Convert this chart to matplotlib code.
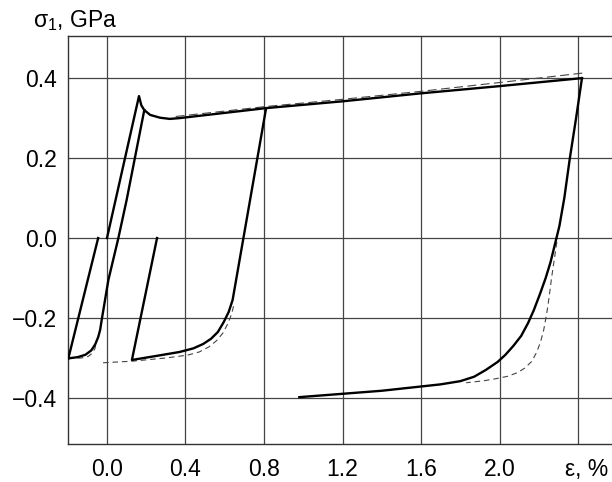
"""
Cyclic stress-strain curves sigma_1 vs epsilon (solid = experiment,
dashed = model), redrawn from a scanned figure.
"""
import matplotlib
matplotlib.use("Agg")
import matplotlib.pyplot as plt

plt.rcParams['font.family'] = ['Liberation Sans', 'DejaVu Sans']
plt.rcParams['mathtext.fontset'] = 'custom'
plt.rcParams['mathtext.rm'] = 'Liberation Sans'

# ------------------------------------------------------------------------
# data (strain in %, stress in GPa)
# ------------------------------------------------------------------------
# loading from origin, yield drop, hardening plateau
load_x = [0.0, 0.163, 0.175, 0.19, 0.22, 0.27, 0.32, 0.37, 0.81, 1.2, 1.6, 2.0, 2.42]
load_y = [0.0, 0.355, 0.332, 0.320, 0.308, 0.301, 0.298, 0.300, 0.325, 0.342, 0.362, 0.380, 0.400]

# unloading from the right end into compression
unl_right_x = [2.42, 2.39, 2.358, 2.33, 2.305, 2.29, 2.26, 2.235, 2.206, 2.175,
               2.145, 2.11, 2.07, 2.03, 1.99, 1.93, 1.87, 1.80, 1.70, 1.40, 0.98]
unl_right_y = [0.400, 0.300, 0.199, 0.100, 0.030, 0.0, -0.060, -0.100, -0.140, -0.180,
               -0.213, -0.245, -0.270, -0.292, -0.310, -0.330, -0.347, -0.358, -0.366, -0.382, -0.398]

# early unloading just after the yield drop
unl_left_x = [0.19, 0.10, 0.058, 0.007, -0.027, -0.035, -0.045, -0.06, -0.08, -0.11, -0.15, -0.197]
unl_left_y = [0.320, 0.095, 0.0, -0.105, -0.205, -0.230, -0.248, -0.266, -0.281, -0.292, -0.298, -0.301]

# reloading branch ending at zero stress
rel_a_x = [-0.197, -0.045]
rel_a_y = [-0.301, 0.0]

# second branch: from zero stress down, then reversed loading up to the plateau
rel_b_x = [0.255, 0.127, 0.25, 0.37, 0.44, 0.49, 0.53, 0.565, 0.595, 0.62, 0.64, 0.81]
rel_b_y = [0.0, -0.305, -0.295, -0.285, -0.276, -0.265, -0.252, -0.235, -0.210, -0.185, -0.155, 0.323]

# model (dashed)
mod_top_x = [0.35, 0.81, 1.2, 1.6, 2.0, 2.43]
mod_top_y = [0.304, 0.329, 0.347, 0.367, 0.389, 0.413]

mod_ll_x = [-0.197, -0.13, -0.095, -0.075, -0.061, -0.053]
mod_ll_y = [-0.301, -0.300, -0.296, -0.288, -0.276, -0.255]

mod_mid_x = [-0.02, 0.13, 0.30, 0.41, 0.47, 0.52, 0.56, 0.59, 0.615, 0.635, 0.645]
mod_mid_y = [-0.312, -0.308, -0.300, -0.293, -0.285, -0.272, -0.256, -0.238, -0.215, -0.190, -0.170]

mod_right_x = [2.292, 2.28, 2.265, 2.252, 2.24, 2.225, 2.21, 2.19, 2.165, 2.13,
               2.09, 2.04, 1.98, 1.92, 1.83]
mod_right_y = [-0.010, -0.050, -0.100, -0.150, -0.190, -0.230, -0.258, -0.285, -0.308, -0.325,
               -0.337, -0.346, -0.352, -0.357, -0.362]

xticks = [0.0, 0.4, 0.8, 1.2, 1.6, 2.0, 2.4]
xtick_labels = ['0.0', '0.4', '0.8', '1.2', '1.6', '2.0', '']
yticks = [-0.4, -0.2, 0.0, 0.2, 0.4]

# ------------------------------------------------------------------------
# plot
# ------------------------------------------------------------------------
fig = plt.figure(figsize=(6.12, 4.82), dpi=100)
ax = fig.add_axes([0.111, 0.079, 0.889, 0.846])

solid = dict(color='black', lw=1.7, solid_joinstyle='round', zorder=3)
for xs, ys in [(load_x, load_y), (unl_right_x, unl_right_y),
               (unl_left_x, unl_left_y), (rel_a_x, rel_a_y),
               (rel_b_x, rel_b_y)]:
    ax.plot(xs, ys, **solid)

ax.plot(mod_top_x, mod_top_y, color='#444444', lw=0.8, ls=(0, (8, 4)), zorder=2)
for xs, ys in [(mod_ll_x, mod_ll_y), (mod_mid_x, mod_mid_y),
               (mod_right_x, mod_right_y)]:
    ax.plot(xs, ys, color='#444444', lw=0.8, ls=(0, (5, 3.5)), zorder=2)

ax.set_xlim(-0.199, 2.573)
ax.set_ylim(-0.515, 0.505)
ax.set_xticks(xticks)
ax.set_xticklabels(xtick_labels)
ax.set_yticks(yticks)
ax.set_yticklabels([f'{v:.1f}'.replace('-', '\u2212') for v in yticks])
ax.tick_params(length=0, labelsize=16.5)
ax.tick_params(axis='x', pad=10)
ax.tick_params(axis='y', pad=8)
ax.grid(True, color='#444444', lw=0.9)
ax.set_axisbelow(True)
for side in ('left', 'bottom', 'top'):
    ax.spines[side].set_linewidth(1.0)
    ax.spines[side].set_color('#333333')
ax.spines['right'].set_visible(False)

ax.annotate('\u03b5, %', xy=(2.445, 0), xycoords=('data', 'axes fraction'),
            xytext=(0, -10), textcoords='offset points',
            ha='center', va='top', fontsize=16.5)
fig.text(0.054, 0.958, r'$\mathregular{\sigma_1}$, GPa', ha='left',
         va='center', fontsize=16.5)

fig.savefig('out.png', dpi=100)
